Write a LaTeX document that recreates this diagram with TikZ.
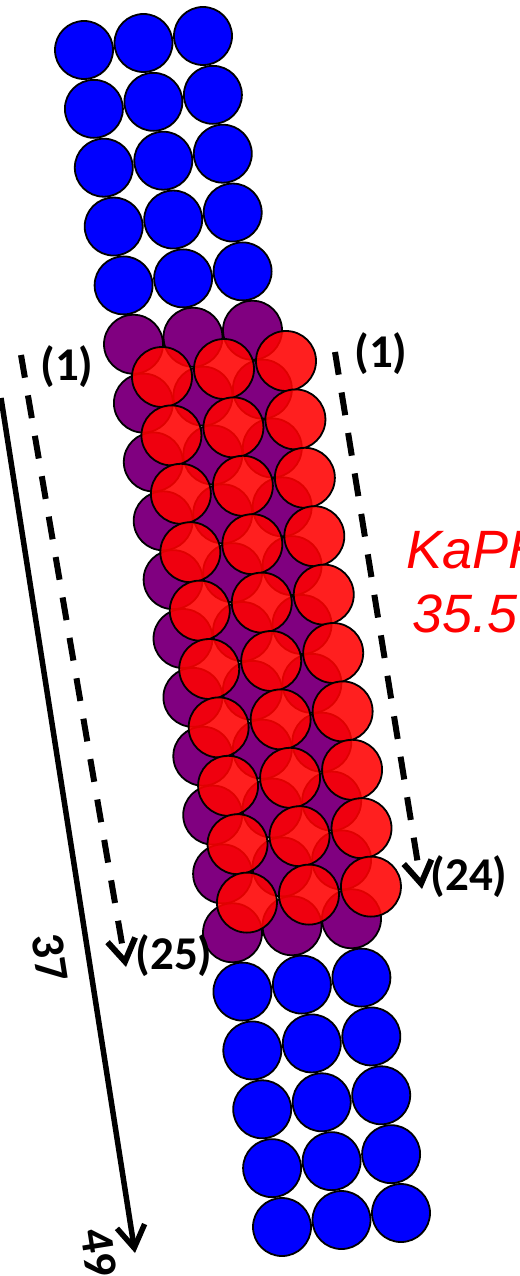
\documentclass[tikz,border=0pt]{standalone}
\usepackage{fontspec}
\setmainfont{Carlito}
\newfontfamily\arialfont{Liberation Sans}
\usetikzlibrary{arrows.meta}
\definecolor{cblue}{RGB}{0,0,255}
\definecolor{cpurple}{RGB}{128,0,128}
\definecolor{cred}{RGB}{255,0,0}
\begin{document}
\begin{tikzpicture}[x=1pt,y=-1pt,
  ball/.style={circle, draw=black, line width=1.8pt, inner sep=0pt},
  blueball/.style={ball, fill=cblue, minimum size=58pt},
  purpleball/.style={ball, fill=cpurple, minimum size=59pt},
  redball/.style={ball, fill=cred, fill opacity=0.88, draw opacity=1, minimum size=60pt},
  lbl/.style={font=\bfseries\fontsize{47}{47}\selectfont, inner sep=0pt, text=black},
  redtxt/.style={font=\arialfont\itshape\fontsize{54}{54}\selectfont, inner sep=0pt, text=cred},
  arrowtip/.style={-{Straight Barb[length=22pt,width=28pt]}},
  dashedarrow/.style={arrowtip, line width=6pt, dash pattern=on 23pt off 18pt},
  solidarrow/.style={arrowtip, line width=5.5pt}
]
\useasboundingbox (0,0) rectangle (519,1276);
% top blue rows
\foreach \r in {1,...,5}{
  \foreach \c in {1,2,3}{
    \pgfmathsetmacro\px{84+9.9*(\r-1)+59.5*(\c-1)}
    \pgfmathsetmacro\py{50+58.85*(\r-1)-7*(\c-1)}
    \node[blueball] (b\r-\c) at (\px,\py) {};
  }
}
% purple rows
\foreach \r in {6,...,16}{
  \foreach \c in {1,2,3}{
    \pgfmathsetmacro\px{84+9.9*(\r-1)+59.5*(\c-1)}
    \pgfmathsetmacro\py{50+58.85*(\r-1)-7*(\c-1)}
    \node[purpleball] (p\r-\c) at (\px,\py) {};
  }
}
% bottom blue rows
\foreach \r in {17,...,21}{
  \foreach \c in {1,2,3}{
    \pgfmathsetmacro\px{84+9.9*(\r-1)+59.5*(\c-1)}
    \pgfmathsetmacro\py{50+58.85*(\r-1)-7*(\c-1)}
    \node[blueball] (b\r-\c) at (\px,\py) {};
  }
}
% red rows
\foreach \k in {1,...,10}{
  \foreach \c in {1,2,3}{
    \pgfmathsetmacro\px{162+9.44*(\k-1)+62*(\c-1)}
    \pgfmathsetmacro\py{377+58.4*(\k-1)-8*(\c-1)}
    \node[redball] (r\k-\c) at (\px,\py) {};
  }
}
% labels
\node[lbl] (l1) at (67,366.5) {(1)};
\node[lbl] (r1) at (381,354) {(1)};
\node[lbl] (l24) at (469,877) {(24)};
\node[lbl] (l25) at (174,956) {(25)};
\node[lbl, rotate=-81] (l37) at (50,958) {37};
\node[lbl, rotate=-81] (l49) at (99,1253) {49};
\node[redtxt, anchor=base west] (k1) at (406,568) {KaPH};
\node[redtxt, anchor=base west] (k2) at (412,632) {35.5};
% arrows
\coordinate (sa) at (21,355);
\coordinate (ea) at (126,967);
\coordinate (sb) at (335,352);
\coordinate (eb) at (422,889);
\coordinate (sc) at (1,398);
\coordinate (ec) at (135,1253);
\draw[dashedarrow] (sa) -- (ea);
\draw[dashedarrow] (sb) -- (eb);
\draw[solidarrow] (sc) -- (ec);
\end{tikzpicture}
\end{document}
